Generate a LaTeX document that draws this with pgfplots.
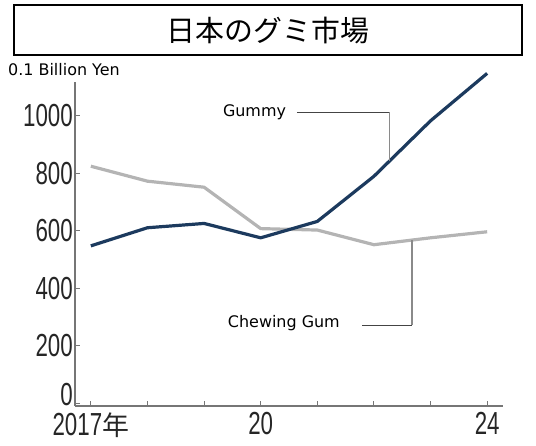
\documentclass[border=0pt]{standalone}
\usepackage{pgfplots}
\pgfplotsset{compat=1.18}
\usepackage{fontspec}
\setmainfont{DejaVu Sans}
\newfontfamily\cjk{Noto Sans CJK JP}
\newfontfamily\narrow[FakeStretch=0.7]{Liberation Sans}
\definecolor{navy}{HTML}{1C3A5E}
\definecolor{gumgray}{HTML}{B4B4B4}
\definecolor{axgray}{HTML}{767676}
\definecolor{leaddark}{HTML}{444444}
\definecolor{leadgray}{HTML}{8A8A8A}
\begin{document}
\begin{tikzpicture}[x=1bp,y=1bp]
\useasboundingbox (0,0) rectangle (536,446);
\draw[line width=2bp] (14,391) rectangle (522,441);
\node[font=\cjk\fontsize{29}{29}\selectfont] at (268,415) {日本のグミ市場};
\node[anchor=west, font=\fontsize{16}{16}\selectfont, inner sep=0pt] at (8,376) {0.1 Billion Yen};
\begin{axis}[
  at={(75bp,40bp)}, anchor=south west,
  scale only axis, width=428bp, height=324bp,
  xmin=2016.72, xmax=2024.28, ymin=-10, ymax=1117,
  axis x line*=bottom, axis y line*=left,
  axis line style={draw=axgray, line width=1.8bp},
  tick style={draw=axgray, line width=1bp},
  tick align=inside, major tick length=5bp,
  clip=false,
  xtick={2017,2018,2019,2020,2021,2022,2023,2024},
  xticklabels={2017{\cjk\fontsize{27}{27}\selectfont 年},,,20,,,,24},
  ytick={0,200,400,600,800,1000},
  yticklabels={\smash{\raisebox{-2bp}{0}},200,400,600,800,1000},
  ticklabel style={font=\narrow\fontsize{32}{32}\selectfont, text=black!85},
  yticklabel style={inner xsep=2bp},
  xticklabel style={inner ysep=6.5bp},
]
\addplot[gumgray, line width=3.2bp, line join=round] coordinates {
 (2017,824) (2018,772) (2019,751) (2020,607) (2021,602) (2022,551) (2023,575) (2024,596)};
\addplot[navy, line width=3.2bp, line join=round] coordinates {
 (2017,547) (2018,610) (2019,625) (2020,575) (2021,632) (2022,789) (2023,982) (2024,1147)};
\draw[leaddark, line width=1.3bp] (axis cs:2020.64,1012) -- (axis cs:2022.28,1012);
\draw[leadgray, line width=1.3bp] (axis cs:2022.28,1012) -- (axis cs:2022.28,843);
\node[anchor=east, font=\fontsize{16}{16}\selectfont, inner sep=0pt] at (axis cs:2020.45,1012) {Gummy};
\draw[leaddark, line width=1.3bp] (axis cs:2021.79,271) -- (axis cs:2022.67,271);
\draw[leadgray, line width=1.3bp] (axis cs:2022.67,271) -- (axis cs:2022.67,567);
\node[anchor=east, font=\fontsize{16}{16}\selectfont, inner sep=0pt] at (axis cs:2021.40,278) {Chewing Gum};
\end{axis}
\end{tikzpicture}
\end{document}
